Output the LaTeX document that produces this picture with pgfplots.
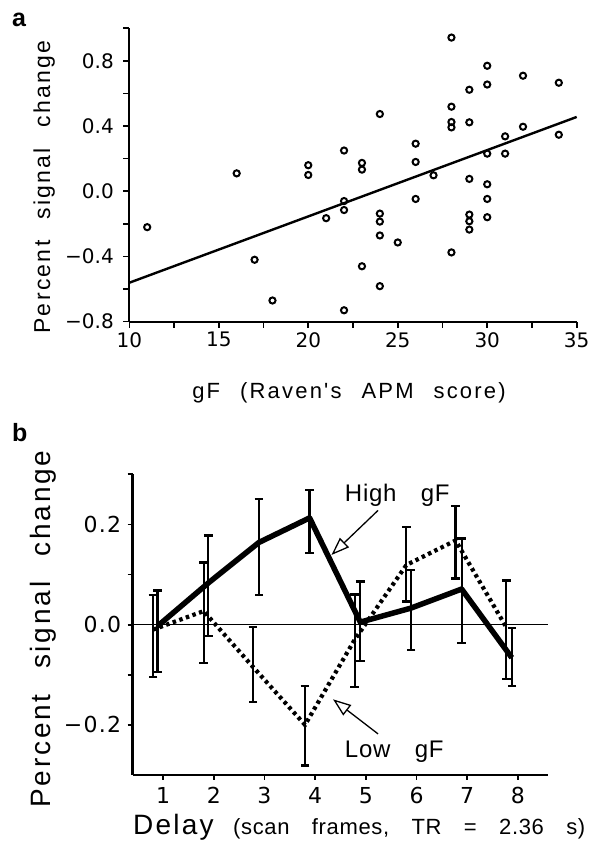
\documentclass[border=0pt]{standalone}
\usepackage{fontspec}
\setmainfont{Liberation Sans}
\usepackage{pgfplots}
\pgfplotsset{compat=1.18}
\usepackage{pgfplotstable}
\usetikzlibrary{arrows.meta}
\newfontfamily\spaced[LetterSpace=10,WordSpace=2.4]{Liberation Sans}
\newfontfamily\tickf[LetterSpace=8]{Liberation Sans}
\newfontfamily\tickd{DejaVu Sans}
\newfontfamily\tickdd[LetterSpace=6]{DejaVu Sans}
\newfontfamily\annot[LetterSpace=3,WordSpace=2.5]{Liberation Sans}
\newfontfamily\sub[LetterSpace=3,WordSpace=3.3]{Liberation Sans}

\pgfplotstableread{
x y
11 -0.22
16 0.11
17 -0.42
18 -0.67
20 0.16
20 0.10
21 -0.165
22 0.25
22 -0.06
22 -0.115
22 -0.73
23 0.174
23 0.133
23 -0.46
24 0.474
24 -0.137
24 -0.186
24 -0.271
24 -0.582
25 -0.314
26 0.292
26 0.18
26 -0.047
27 0.098
28 0.943
28 0.519
28 0.425
28 0.392
28 -0.375
29 0.623
29 0.423
29 0.076
29 -0.143
29 -0.184
29 -0.235
30 0.77
30 0.655
30 0.231
30 0.043
30 -0.047
30 -0.159
31 0.337
31 0.231
32 0.709
32 0.396
34 0.666
34 0.347
}\scatterdata

\pgfplotstableread{
x y ep em
0.89 -0.003 0.071 0.091
1.89 0.083 0.095 0.106
2.89 0.164 0.086 0.105
3.89 0.213 0.056 0.070
4.89 0.005 0.081 0.078
5.89 0.033 0.076 0.083
6.89 0.071 0.101 0.107
7.88 -0.066 0.059 0.056
}\high

\pgfplotstableread{
x y ep em
0.80 -0.010 0.069 0.094
1.80 0.027 0.097 0.103
2.77 -0.084 0.079 0.071
3.80 -0.200 0.078 0.081
4.78 -0.030 0.090 0.095
5.80 0.119 0.076 0.073
6.77 0.168 0.068 0.076
7.77 -0.005 0.093 0.104
}\low

\begin{document}
\begin{tikzpicture}[x=1bp,y=1bp]
\useasboundingbox (0,0) rectangle (592,854);

% ---------- panel a ----------
\begin{axis}[
  at={(129.3bp,532.3bp)}, anchor=south west,
  scale only axis, width=447.4bp, height=293.4bp,
  xmin=10, xmax=35, ymin=-0.8, ymax=1.0,
  axis lines=left, axis line style={-, line width=2bp, black},
  xtick={10,15,20,25,30,35}, xticklabels={10,15,20,25,30,35},
  minor xtick={12.5,17.5,22.5,27.5,32.5},
  ytick={-0.8,-0.4,0,0.4,0.8}, yticklabels={−0.8,−0.4,0.0,0.4,0.8},
  minor ytick={-0.6,-0.2,0.2,0.6,1.0},
  tick align=outside, major tick length=6bp, minor tick length=6bp,
  every tick/.style={line width=1.6bp, black},
  xticklabel style={font=\tickd\fontsize{20bp}{24bp}\selectfont, yshift=-1bp},
  yticklabel style={font=\tickd\fontsize{20bp}{24bp}\selectfont, xshift=-6bp},
  clip=false,
]
\addplot[only marks, mark=o, mark size=3.1bp, mark options={line width=2bp, black}] table[x=x,y=y] {\scatterdata};
\addplot[line width=2.4bp, black] coordinates {(10,-0.561) (35,0.456)};
\end{axis}

% ---------- panel b ----------
\begin{axis}[
  at={(132.7bp,79bp)}, anchor=south west,
  scale only axis, width=415.6bp, height=300.7bp,
  xmin=0.4, xmax=8.6, ymin=-0.3, ymax=0.3,
  axis lines=left, axis line style={-, line width=2.5bp, black},
  xtick={1,2,3,4,5,6,7,8}, xticklabels={1,2,3,4,5,6,7,8},
  ytick={-0.2,0,0.2}, yticklabels={−0.2,0.0,0.2},
  minor ytick={-0.1,0.1,0.3},
  tick align=outside, major tick length=5bp, minor tick length=5bp,
  every tick/.style={line width=1.8bp, black},
  xticklabel style={font=\tickd\fontsize{22bp}{26bp}\selectfont, yshift=-4bp},
  yticklabel style={font=\tickdd\fontsize{22bp}{26bp}\selectfont, xshift=-3bp},
  clip=false,
]
\addplot[line width=1.4bp, black] coordinates {(0.4,0) (8.6,0)};
\addplot[line width=4.2bp, black, dash pattern=on 3.5bp off 3.5bp,
  error bars/.cd, y dir=both, y explicit,
  error bar style={line width=2.2bp, solid},
  error mark options={rotate=90, line width=2.2bp, mark size=4.3bp, solid}]
  table[x=x, y=y, y error plus=ep, y error minus=em] {\low};
\addplot[line width=5.5bp, black, line join=round,
  error bars/.cd, y dir=both, y explicit,
  error bar style={line width=2.2bp},
  error mark options={rotate=90, line width=2.2bp, mark size=4.3bp}]
  table[x=x, y=y, y error plus=ep, y error minus=em] {\high};
\node[anchor=base west, font=\annot\fontsize{24bp}{28bp}\selectfont, inner sep=0] at (axis cs:4.584,0.246) {High gF};
\node[anchor=base west, font=\annot\fontsize{24bp}{28bp}\selectfont, inner sep=0] at (axis cs:4.584,-0.2645) {Low gF};
\draw[line width=1.3bp, -{Triangle[open, length=18bp, width=13bp, line width=1.3bp]}] (axis cs:5.241,0.228) -- (axis cs:4.322,0.139);
\draw[line width=1.3bp, -{Triangle[open, length=18bp, width=13bp, line width=1.3bp]}] (axis cs:5.241,-0.218) -- (axis cs:4.353,-0.149);
\end{axis}

% ---------- labels ----------
\node[anchor=base west, inner sep=0, font=\bfseries\fontsize{25bp}{30bp}\selectfont] at (12,827) {a};
\node[anchor=base, rotate=90, inner sep=0, font=\spaced\fontsize{23bp}{27bp}\selectfont] at (50,667) {Percent signal change};
\node[anchor=base, inner sep=0, font=\spaced\fontsize{22bp}{26bp}\selectfont] at (349,455.7) {gF (Raven's APM score)};

\node[anchor=base west, inner sep=0, font=\bfseries\fontsize{25bp}{30bp}\selectfont] at (12,412) {b};
\node[anchor=base, rotate=90, inner sep=0, font=\spaced\fontsize{28bp}{32bp}\selectfont] at (50,225) {Percent signal change};
\node[anchor=base west, inner sep=0, font=\tickf\fontsize{28bp}{32bp}\selectfont] at (133,19) {Delay};
\node[anchor=base west, inner sep=0, font=\sub\fontsize{22bp}{26bp}\selectfont] at (233,19) {(scan frames, TR = 2.36 s)};
\end{tikzpicture}
\end{document}
